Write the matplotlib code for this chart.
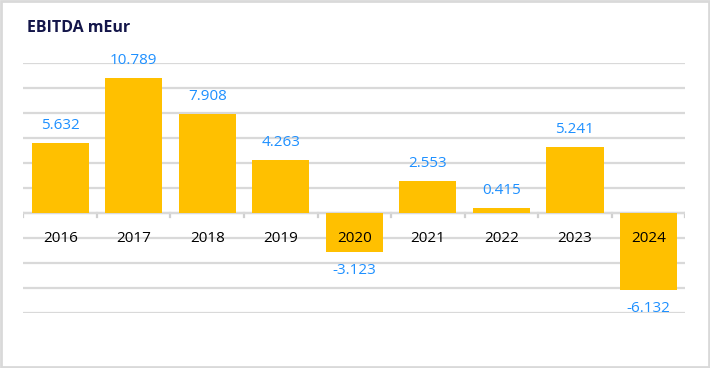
import matplotlib.pyplot as plt
from matplotlib.patches import Rectangle

# dados
years = ["2016", "2017", "2018", "2019", "2020", "2021", "2022", "2023", "2024"]
ebitda = [5.632, 10.789, 7.908, 4.263, -3.123, 2.553, 0.415, 5.241, -6.132]
value_labels = ["5.632", "10.789", "7.908", "4.263", "-3.123", "2.553", "0.415", "5.241", "-6.132"]

plt.rcParams['font.family'] = ['Open Sans', 'DejaVu Sans']

fig = plt.figure(figsize=(7.1, 3.68), dpi=100)
ax = fig.add_axes([0.033, 0.149, 0.932, 0.68])

x = list(range(len(years)))
ax.bar(x, ebitda, width=0.78, color="#FFC000", zorder=2)

ax.set_xlim(-0.5, len(years) - 0.5)
ax.set_ylim(-8, 12)
ax.set_yticks(range(-8, 13, 2))
ax.yaxis.grid(True, color="#D9D9D9", linewidth=1.6, zorder=0)
ax.tick_params(left=False, labelleft=False, bottom=False, labelbottom=False)
for s in ax.spines.values():
    s.set_visible(False)

# linha do zero com pequenos ticks
ax.axhline(0, color="#D0D0D0", linewidth=1.6, zorder=1)
for b in range(len(years) + 1):
    ax.plot([b - 0.5, b - 0.5], [0, -0.3], color="#D0D0D0", linewidth=1.6, zorder=1)

# anos e valores
for xi, v, lab, yr in zip(x, ebitda, value_labels, years):
    ax.text(xi, -2.0, yr, ha='center', va='center', fontsize=11, color="black", zorder=3)
    if v >= 0:
        ax.text(xi, v + 0.8, lab, ha='center', va='bottom', fontsize=11, color="#1E90FF", zorder=3)
    else:
        ax.text(xi, v - 0.9, lab, ha='center', va='top', fontsize=11, color="#1E90FF", zorder=3)

fig.text(0.038, 0.925, "EBITDA mEur", fontsize=11.5, fontweight='bold', color="#14164A",
         ha='left', va='center')

# borda
fig.patches.append(Rectangle((0.0015, 0.003), 0.997, 0.994, transform=fig.transFigure,
                             fill=False, edgecolor="#D9D9D9", linewidth=2))

plt.savefig("out.png", dpi=100)
